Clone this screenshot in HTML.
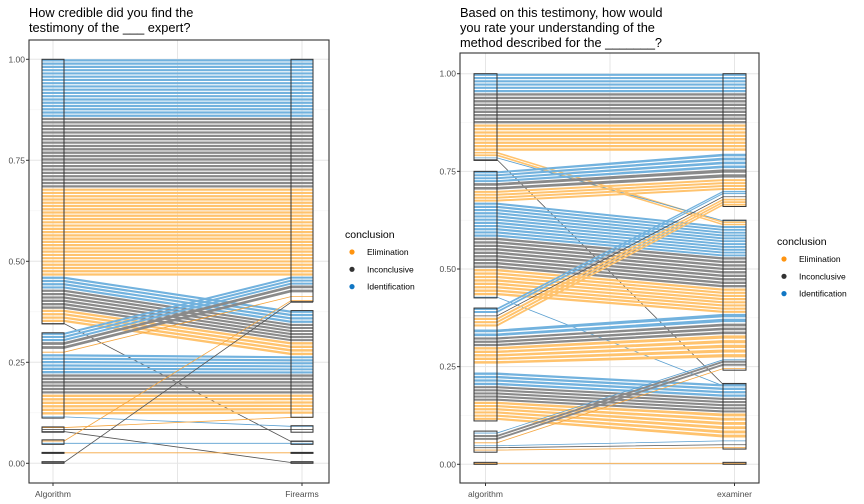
<!DOCTYPE html>
<html><head><meta charset="utf-8"><style>
body{margin:0;background:#fff;}
svg{display:block;font-family:"Liberation Sans",sans-serif;}
</style></head><body>
<svg id="svg" width="864" height="504" xmlns="http://www.w3.org/2000/svg">
<g id="p1"></g>
<g id="p2"></g>
<text x="29" y="17" font-size="12.8" fill="#000">How credible did you find the</text>
<text x="29" y="32" font-size="12.8" fill="#000">testimony of the ___ expert?</text>
<text x="460" y="17" font-size="12.8" fill="#000">Based on this testimony, how would</text>
<text x="460" y="32" font-size="12.8" fill="#000">you rate your understanding of the</text>
<text x="460" y="47" font-size="12.8" fill="#000">method described for the _______?</text>
</svg>
<script>
const NS='http://www.w3.org/2000/svg';
const yTicks=[0,0.25,0.5,0.75,1];
const yTickLabels=['0.00','0.25','0.50','0.75','1.00'];
const colors={B:'#72b2de',G:'#8a8a8a',O:'#ffc36e'};
const lineColors={B:'#5a9fd0',G:'#555555',O:'#f5a640'};
const legendLabels=['Elimination','Inconclusive','Identification'];
const legendColors=['#ff9410','#333333','#1177c4'];
// left chart
const cats1=['Algorithm','Firearms'];
const strataL1=[[1,0.345],[0.323,0.112],[0.09,0.077],[0.058,0.047],[0.027,0.025],[0.004,0]];
const strataR1=[[1,0.40],[0.378,0.114],[0.093,0.077],[0.055,0.047],[0.027,0.025],[0.004,0]];
const flowsL0_1=[1,0.855,0.68,0.462,0.43,0.38,0.347,0.323,0.30,0.28,0.27,0.22,0.17,0.118,0.09,0.087,0.08,0.058,0.052,0.027,0.004];
const flowsL1_1=[0.855,0.68,0.462,0.43,0.38,0.347,0.345,0.30,0.28,0.27,0.22,0.17,0.118,0.112,0.087,0.08,0.077,0.052,0.047,0.025,0];
const flowsR0_1=[1,0.855,0.68,0.378,0.345,0.30,0.055,0.462,0.44,0.42,0.265,0.22,0.17,0.093,0.115,0.087,0.004,0.405,0.052,0.027,0.40];
const flowsR1_1=[0.855,0.68,0.462,0.345,0.30,0.265,0.053,0.44,0.42,0.405,0.22,0.17,0.12,0.09,0.112,0.08,0,0.40,0.047,0.025,0.397];
const flowsC_1=['B','G','O','B','G','O','G','B','G','O','B','G','O','B','O','G','G','O','B','O','G'];
// right chart
const cats2=['algorithm','examiner'];
const strataL2=[[1,0.778],[0.75,0.426],[0.40,0.111],[0.085,0.031],[0.005,0]];
const strataR2=[[1,0.66],[0.625,0.241],[0.207,0.039],[0.005,0]];
const flowsL0_2=[1,0.95,0.87,0.80,0.787,0.782,0.75,0.72,0.70,0.67,0.58,0.50,0.43,0.40,0.385,0.375,0.345,0.325,0.30,0.235,0.20,0.16,0.085,0.075,0.06,0.05,0.045,0.04,0.005];
const flowsL1_2=[0.95,0.87,0.80,0.787,0.782,0.778,0.72,0.70,0.67,0.58,0.50,0.43,0.426,0.385,0.375,0.35,0.325,0.30,0.255,0.20,0.16,0.111,0.075,0.06,0.05,0.045,0.04,0.033,0];
const flowsR0_2=[1,0.95,0.87,0.622,0.625,0.207,0.795,0.755,0.73,0.61,0.53,0.45,0.203,0.70,0.69,0.68,0.385,0.36,0.33,0.205,0.17,0.13,0.27,0.265,0.25,0.065,0.055,0.045,0.005];
const flowsR1_2=[0.95,0.87,0.80,0.61,0.622,0.203,0.755,0.73,0.70,0.53,0.45,0.385,0.199,0.69,0.68,0.66,0.36,0.33,0.27,0.17,0.13,0.065,0.265,0.25,0.24,0.055,0.045,0.04,0];
const flowsC_2=['B','G','O','O','B','G','B','G','O','B','G','O','B','B','G','O','B','G','O','B','G','O','B','G','O','B','G','O','O'];

function el(tag,attrs,parent){const e=document.createElementNS(NS,tag);for(const k in attrs)e.setAttribute(k,attrs[k]);parent.appendChild(e);return e;}

function draw(g,P){
  const y=v=>P.y0+(P.y1-P.y0)*v;
  const minor=[0.125,0.375,0.625,0.875];
  minor.forEach(v=>{const l=el('line',{x1:P.px0,x2:P.px1,y1:y(v),y2:y(v),stroke:'#f3f3f3','stroke-width':0.6},g);
    
    });
  yTicks.forEach((v,i)=>{const l=el('line',{x1:P.px0,x2:P.px1,y1:y(v),y2:y(v),stroke:'#e6e6e6','stroke-width':1},g);
    
    
    const t=el('text',{x:P.px0-4,y:y(v)+3,'font-size':8.5,fill:'#4d4d4d','text-anchor':'end'},g);t.textContent=yTickLabels[i];
    
    
    const tk=el('line',{x1:P.px0-3,x2:P.px0,y1:y(v),y2:y(v),stroke:'#333'},g);
    
    });
  const xc=[(P.sx0+P.sx1)/2,(P.sx0+P.sx1)/2+P.dx];
  [xc[0],(xc[0]+xc[1])/2,xc[1]].forEach(x=>{const l=el('line',{x1:x,x2:x,y1:P.py0,y2:P.py1,stroke:'#e6e6e6'},g);
    
    });
  const xa=P.sx1, xb=P.sx0+P.dx;
  for(let f=0;f<P.L0.length;f++){
    const l0=P.L0[f],l1=P.L1[f],r0=P.R0[f],r1=P.R1[f];
    const hpx=Math.abs(y(l1)-y(l0));
    const n=Math.max(1,Math.round(hpx/3.3));
    const fg=el('g',{},g);
    
    
    if(n===1){
      const lm=y((l0+l1)/2),rm=y((r0+r1)/2);
      const p=el('polyline',{points:`${P.sx0},${lm} ${xa},${lm} ${xb},${rm} ${P.sx1+P.dx},${rm}`,fill:'none',stroke:lineColors[P.C[f]],'stroke-width':0.8},fg);
      
      
      continue;
    }
    const c=colors[P.C[f]];
    for(let i=0;i<n;i++){
      const a=i/n,b=(i+0.68)/n;
      const la=y(l0+(l1-l0)*a),lb=y(l0+(l1-l0)*b),ra=y(r0+(r1-r0)*a),rb=y(r0+(r1-r0)*b);
      const pts=[[P.sx0,la],[xa,la],[xb,ra],[P.sx1+P.dx,ra],[P.sx1+P.dx,rb],[xb,rb],[xa,lb],[P.sx0,lb]];
      const p=el('polygon',{points:pts.map(q=>q.join(',')).join(' '),fill:c},fg);
      
      
    }
  }
  P.SL.forEach(s=>{const r=el('rect',{x:P.sx0,y:y(s[0]),width:P.sx1-P.sx0,height:Math.max(1,y(s[1])-y(s[0])),fill:'none',stroke:'#333','stroke-width':1},g);
    
    });
  P.SR.forEach(s=>{const r=el('rect',{x:P.sx0+P.dx,y:y(s[0]),width:P.sx1-P.sx0,height:Math.max(1,y(s[1])-y(s[0])),fill:'none',stroke:'#333','stroke-width':1},g);
    
    });
  const bd=el('rect',{x:P.px0,y:P.py0,width:P.px1-P.px0,height:P.py1-P.py0,fill:'none',stroke:'#333','stroke-width':1.1},g);
  
  
  P.cats.forEach((c,i)=>{
    const tk=el('line',{x1:xc[i],x2:xc[i],y1:P.py1,y2:P.py1+3,stroke:'#333'},g);
    
    
    const t=el('text',{x:xc[i],y:P.py1+14,'font-size':8.5,fill:'#4d4d4d','text-anchor':'middle'},g);t.textContent=c;
    
    });
  const lt=el('text',{x:P.lx,y:P.ly,'font-size':10.5,fill:'#000'},g);lt.textContent='conclusion';
  
  
  legendLabels.forEach((lab,i)=>{
    const yy=P.ly+17+i*17.3;
    const lg=el('g',{},g);
    
    
    el('circle',{cx:P.lx+7,cy:yy-3,r:2.6,fill:legendColors[i]},lg);
    const t=el('text',{x:P.lx+22,y:yy,'font-size':8.5,fill:'#000'},lg);t.textContent=lab;
  });
}
draw(document.getElementById('p1'),{px0:29,px1:329,py0:40,py1:483,y0:463.3,y1:59.3,sx0:42,sx1:64,dx:249,
  L0:flowsL0_1,L1:flowsL1_1,R0:flowsR0_1,R1:flowsR1_1,C:flowsC_1,SL:strataL1,SR:strataR1,cats:cats1,lx:345,ly:238});
draw(document.getElementById('p2'),{px0:460,px1:759,py0:53,py1:483,y0:464.3,y1:73.7,sx0:474,sx1:497,dx:249,
  L0:flowsL0_2,L1:flowsL1_2,R0:flowsR0_2,R1:flowsR1_2,C:flowsC_2,SL:strataL2,SR:strataR2,cats:cats2,lx:777,ly:245});
</script>
</body></html>
